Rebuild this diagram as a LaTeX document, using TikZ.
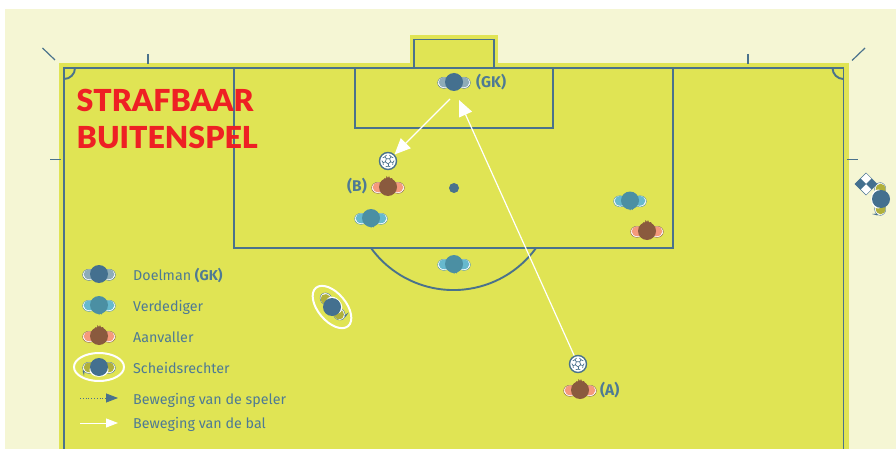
\documentclass[tikz,border=0pt]{standalone}
\usepackage{fontspec}
\setmainfont{Fira Sans}
\newfontfamily\titelfont{Lato Black}
\usetikzlibrary{arrows.meta,shapes.geometric}
\definecolor{lijnblauw}{RGB}{74,114,140}
\definecolor{labelblauw}{RGB}{78,122,148}
\definecolor{veldgeel}{RGB}{224,228,84}
\definecolor{randgeel}{RGB}{245,246,212}
\definecolor{titelrood}{RGB}{238,32,36}
\definecolor{keeperschouder}{RGB}{142,172,184}
\definecolor{keeperhoofd}{RGB}{68,112,143}
\definecolor{verdedigerschouder}{RGB}{103,185,206}
\definecolor{verdedigerhoofd}{RGB}{75,143,163}
\definecolor{aanvallerschouder}{RGB}{245,154,124}
\definecolor{aanvallerhoofd}{RGB}{138,90,62}
\definecolor{refschouder}{RGB}{176,176,60}

% speler: naam, positie, draaiing, schouderkleur, hoofdkleur, extra
\newcommand{\speler}[6]{%
  \begin{scope}[shift={(#2)},#3]
    \foreach \zijde in {-1,1} {
      \filldraw[fill=white,draw=#5,line width=0.4pt] (\zijde*10,0.8) ellipse (6.4 and 5.6);
      \fill[#4] (\zijde*9.4,0.4) ellipse (6 and 4.9);
    }
    #6
    \node[hoofd,fill=#5] (#1) at (0,0) {};
  \end{scope}%
}
\newcommand{\kuif}{\fill[aanvallerhoofd] (-4,-6) -- (-3.5,-9) -- (-2,-8) -- (-1.5,-11) -- (0,-9) -- (1,-11) -- (2,-8.5) -- (4,-9) -- (5,-6) -- cycle;}
\newcommand{\nekhaar}{\fill[verdedigerhoofd] (-4,6) -- (-2,9) -- (-1,8) -- (0,10) -- (1,8.5) -- (2.5,9.5) -- (4,6) -- cycle;}
\newcommand{\fluit}{%
  \fill[white] (0,3) ellipse (9.5 and 6.8);
  \fill[lijnblauw] (-16.5,3.5) -- (-14.5,4) -- (-15,9) -- cycle;}
% bal: naam, positie
\newcommand{\bal}[2]{%
  \node[balrand] (#1) at (#2) {};
  \begin{scope}[shift={(#2)}]
    \draw[lijnblauw, line width=0.7pt] (90:2.8) -- (162:2.8) -- (234:2.8) -- (306:2.8) -- (18:2.8) -- cycle;
    \foreach \hoek in {18,90,162,234,306} {
      \draw[lijnblauw, line width=0.7pt] (\hoek:2.8) -- (\hoek:5.2);
      \draw[lijnblauw, line width=0.7pt] (\hoek-22:6.2) -- (\hoek:5.2) -- (\hoek+22:6.2);
    }
  \end{scope}%
}

\begin{document}
\begin{tikzpicture}[
  x=1pt, y=-1pt,
  veldlijn/.style={draw=lijnblauw, line width=1.9pt},
  tik/.style={draw=lijnblauw, line width=1.2pt},
  hoofd/.style={circle, minimum size=18pt, inner sep=0pt},
  balrand/.style={circle, draw=lijnblauw, fill=white, line width=1.4pt, minimum size=17pt, inner sep=0pt},
  balpijl/.style={-{Triangle[length=16pt,width=14pt]}, white, line width=1.2pt},
  legbalpijl/.style={-{Triangle[length=12pt,width=9pt]}, white, line width=1pt},
  loopijl/.style={-{Triangle[length=12pt,width=9pt]}, lijnblauw, dotted, line width=0.8pt},
  ring/.style={ellipse, draw=white, line width=2pt},
  tekst/.style={font=\fontsize{14.3}{16}\selectfont, text=labelblauw, anchor=base west, inner sep=0pt},
  letter/.style={font=\fontsize{15.5}{17}\selectfont\bfseries, text=labelblauw, anchor=base west, inner sep=0pt},
  titel/.style={font=\fontsize{30.3}{33}\selectfont\titelfont, text=titelrood, anchor=base west, inner sep=0pt}
]
\useasboundingbox (0,0) rectangle (896,449);
\fill[randgeel] (5,9) rectangle (896,449);
\fill[veldgeel] (59,63) rectangle (849,449);
\fill[veldgeel] (410,35) rectangle (498,64);

% veld
\draw[veldlijn] (64,449) -- (64,68) -- (843.5,68) -- (843.5,449);
\draw[veldlijn] (414,68) -- (414,39.5) -- (494,39.5) -- (494,68);
\draw[veldlijn] (234,68) -- (234,248) -- (673,248) -- (673,68);
\draw[veldlijn] (355,68) -- (355,128) -- (553,128) -- (553,68);
\draw[veldlijn] (64,79) arc[start angle=90, end angle=0, radius=11];
\draw[veldlijn] (843.5,79) arc[start angle=90, end angle=180, radius=11];
\draw[veldlijn] (371,248) arc[start angle=144, end angle=36, radius=102];
\node[circle, fill=lijnblauw, minimum size=10pt, inner sep=0pt] (stip) at (454,188) {};

% tikken
\draw[tik] (42.5,48) -- (55,60);
\draw[tik] (865,48) -- (852,60.5);
\draw[tik] (148,54) -- (148,64);
\draw[tik] (748,54) -- (748,64);
\draw[tik] (50,159.5) -- (61,159.5);
\draw[tik] (847,159.5) -- (858,159.5);

\node[titel] (titel1) at (76.5,111.5) {STRAFBAAR};
\node[titel] (titel2) at (76.5,148.5) {BUITENSPEL};

% spelers
\speler{gk}{454,82}{}{keeperschouder}{keeperhoofd}{}
\speler{b}{388,187}{}{aanvallerschouder}{aanvallerhoofd}{\kuif}
\speler{v1}{371,218}{}{verdedigerschouder}{verdedigerhoofd}{\nekhaar}
\speler{v2}{630,200.5}{}{verdedigerschouder}{verdedigerhoofd}{\nekhaar}
\speler{v3}{454,264}{}{verdedigerschouder}{verdedigerhoofd}{\nekhaar}
\speler{a2}{647,231}{}{aanvallerschouder}{aanvallerhoofd}{\kuif}
\speler{a}{580,390}{}{aanvallerschouder}{aanvallerhoofd}{\kuif}
\speler{ref}{332,307}{rotate=131}{refschouder}{keeperhoofd}{\fluit}
\speler{grens}{881,199}{rotate=-90,xscale=-1}{refschouder}{keeperhoofd}{\fluit}
\node[ring, minimum width=50pt, minimum height=28pt, rotate=-50] (refring) at (332,307) {};

\bal{balb}{388,161}
\bal{bala}{578,364}
\node[letter] (lgk) at (476,88) {(GK)};
\node[letter] (lb) at (347,192) {(B)};
\node[letter] (la) at (600,395) {(A)};

% vlag
\begin{scope}[shift={(866,184)},rotate=45]
  \filldraw[fill=white,draw=keeperhoofd,line width=0.4pt] (-7.8,-7.8) rectangle (7.8,7.8);
  \fill[keeperhoofd] (-7.8,-7.8) rectangle (0,0);
  \fill[keeperhoofd] (0,0) rectangle (7.8,7.8);
\end{scope}

% balbanen
\coordinate (gkuit) at (450,99);
\coordinate (gkin) at (459,100);
\draw[balpijl] (gkuit) -- (balb);
\draw[balpijl] (bala) -- (gkin);

% legenda
\speler{leg1}{99,274}{}{keeperschouder}{keeperhoofd}{}
\speler{leg2}{99,305}{}{verdedigerschouder}{verdedigerhoofd}{\nekhaar}
\speler{leg3}{99,336}{}{aanvallerschouder}{aanvallerhoofd}{\kuif}
\speler{leg4}{99,367}{}{refschouder}{keeperhoofd}{\fluit}
\node[ring, minimum width=50pt, minimum height=28pt] (legring) at (99,367) {};
\node[tekst] (t1) at (133,280) {Doelman \textbf{(GK)}};
\node[tekst] (t2) at (133,311) {Verdediger};
\node[tekst] (t3) at (133,342) {Aanvaller};
\node[tekst] (t4) at (133,373) {Scheidsrechter};
\node[tekst] (t5) at (133,404) {Beweging van de speler};
\node[tekst] (t6) at (133,428) {Beweging van de bal};
\coordinate (p1) at (80,398);
\coordinate (p2) at (118,398);
\coordinate (p3) at (80,423);
\coordinate (p4) at (118,423);
\draw[loopijl] (p1) -- (p2);
\draw[legbalpijl] (p3) -- (p4);
\end{tikzpicture}
\end{document}
